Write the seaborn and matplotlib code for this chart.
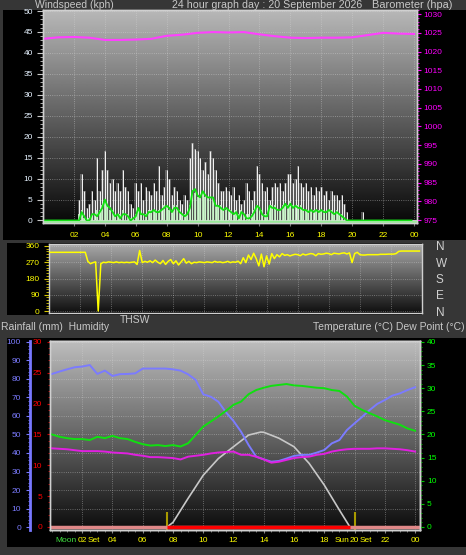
import numpy as np
import pandas as pd
import matplotlib
matplotlib.use("Agg")
import matplotlib.pyplot as plt
import matplotlib.transforms as mtransforms
from matplotlib.patches import Rectangle
from matplotlib.ticker import MultipleLocator
import seaborn as sns

plt.rcParams['font.family'] = ['Liberation Sans', 'DejaVu Sans']

W, H = 466, 555

# ---------------- data ----------------
# barometer, hourly (hPa)
baro_hour = list(range(25))
baro = [1023.4, 1023.8, 1023.9, 1023.7, 1023.1, 1023.1, 1023.2, 1023.4, 1024.2, 1024.5,
        1025.0, 1025.2, 1025.1, 1025.2, 1024.6, 1024.1, 1023.7, 1023.6, 1023.7, 1023.7,
        1023.8, 1024.4, 1025.0, 1024.8, 1024.7]

# wind, 10 minute readings (kph)
gust = [0, 0, 0, 0, 0, 0,  0, 0, 0, 0, 0, 0,  0, 0, 5, 11, 7, 3,
        4, 7, 5, 15, 7, 12,  16.5, 12, 9, 10, 7, 9,  7, 12, 8, 7, 4, 3,
        9, 7, 9, 5, 8, 7,  6, 9, 7, 13, 6, 8,  12, 10, 6, 8, 7, 5,
        4, 6, 5, 15, 18.5, 17,  16.5, 15, 12, 14, 11, 16.5,  15, 12, 9, 7, 7, 8,
        7, 6, 8, 5, 6, 4,  5, 9, 7, 5, 7, 13,  11, 9, 7, 8, 5, 8,
        9, 8, 9, 7, 9, 11,  11, 9, 10, 13, 9, 8,  9, 7, 8, 6, 8, 7,
        8, 6, 7, 5, 7, 6,  6, 5, 6, 4, 2, 0,  0, 0, 0, 0, 2, 0,
        0, 0, 0, 0, 0, 0,  0, 0, 0, 0, 0, 0,  0, 0, 0, 0, 0, 0]
speed = [0, 0, 0, 0, 0, 0,  0, 0, 0, 0, 0, 0,  0, 0, 2, 3, 1, 0,
         1, 2, 2, 3, 3, 4,  5, 4, 3, 3, 2, 2,  2, 3, 2, 2, 1, 1,
         2, 3, 2, 2, 2, 3,  3, 3, 3, 3, 3, 4,  4, 3, 3, 4, 4, 3,
         2, 2, 2, 4, 7, 7,  6, 6, 7, 6, 6, 6,  6, 4, 4, 4, 3, 3,
         3, 3, 2, 3, 2, 3,  2, 2, 2, 2, 3, 4,  4, 3, 2, 2, 4, 4,
         4, 3, 3, 4, 4, 4,  5, 4, 4, 4, 4, 3,  3, 3, 3, 3, 3, 3,
         3, 3, 3, 3, 3, 2,  3, 2, 2, 1, 0, 0,  0, 0, 0, 0, 0, 0,
         0, 0, 0, 0, 0, 0,  0, 0, 0, 0, 0, 0,  0, 0, 0, 0, 0, 0]
avg = [0, 0, 0, 0, 0, 0,  0, 0, 0, 0, 0, 0,  0, 0, 0, 2, 1, 0,
       0, 1.5, 1.5, 1, 2, 3,  5, 3.5, 3, 2, 1, 1.5,  0.5, 1.5, 1.5, 1, 0, 0.5,
       1, 3, 1.5, 1.5, 1, 2,  2, 2.5, 2, 2, 2.5, 3,  3.5, 3, 2, 3, 3, 2,
       1.5, 1, 1.5, 3, 7, 7.5,  6, 5.5, 7, 6, 5.5, 5.5,  5.5, 3.5, 3.5, 3, 2.5, 3,
       2.5, 2, 1.5, 2, 0.5, 2,  1.5, 0.5, 0.5, 1, 2, 3.5,  3, 1.5, 1, 1, 3.5, 3,
       3, 2.5, 2.5, 3, 4, 3,  4, 3, 3.5, 3, 3, 2.5,  2.5, 2, 2.5, 2, 2.5, 2,
       2.5, 2, 2, 2.5, 2, 1.5,  2, 1.5, 1, 0.5, 0, 0,  0, 0, 0, 0, 0, 0,
       0, 0, 0, 0, 0, 0,  0, 0, 0, 0, 0, 0,  0, 0, 0, 0, 0, 0]
# wind direction, 10 minute readings (degrees)
wdir = [325, 325, 325, 325, 325, 325,  325, 325, 325, 325, 325, 325,  325, 325, 325, 275, 262, 268,
        272, 0, 262, 270, 268, 272,  270, 268, 272, 268, 270, 268,  270, 268, 270, 272, 258, 335,
        268, 275, 270, 278, 268, 282,  270, 262, 280, 258, 275, 285,  262, 278, 255, 272, 290, 265,
        275, 262, 270, 268, 272, 270,  268, 272, 270, 268, 275, 270,  272, 268, 270, 275, 268, 272,
        270, 276, 262, 295, 268, 310,  285, 320, 290, 250, 315, 245,  305, 260, 318, 290, 312, 300,
        318, 308, 312, 305, 310, 314,  312, 306, 316, 310, 314, 318,  316, 306, 318, 314, 316, 320,
        318, 312, 320, 318, 316, 320,  322, 316, 322, 268, 318, 325,  312, 310, 310, 312, 312, 312,
        312, 312, 314, 314, 314, 315,  315, 315, 318, 330, 332, 332,  332, 332, 332, 332, 332, 332]

# half-hourly temperature / humidity
hum = [82.7, 84.0, 85.2, 86.3, 86.7, 87.5, 82.7, 84.5, 81.6, 82.6, 82.7, 83.0, 85.6,
       85.6, 85.6, 85.6, 85.2, 84.5, 82.5, 79.5, 71.7, 70.4, 67.7, 62.0, 57.3, 51.5,
       44.3, 38.0, 36.6, 35.3, 35.7, 37.0, 38.4, 39.0, 39.0, 40.2, 41.6, 45.2, 47.0,
       52.4, 56.0, 59.5, 63.2, 66.5, 68.6, 71.0, 72.2, 74.0, 75.5]
temp = [20.0, 19.5, 19.2, 19.0, 19.0, 18.8, 19.5, 19.2, 19.7, 19.2, 19.0, 18.4, 17.9,
        17.6, 17.7, 17.5, 17.7, 17.4, 18.1, 19.9, 21.7, 22.8, 23.9, 25.1, 26.4, 27.1,
        28.7, 29.6, 30.1, 30.5, 30.7, 30.9, 30.6, 30.5, 30.3, 30.1, 30.0, 29.6, 29.4,
        28.2, 26.2, 25.3, 24.6, 23.9, 23.1, 22.6, 22.1, 21.3, 20.8]
dew = [17.0, 16.9, 16.8, 16.6, 16.4, 16.4, 16.4, 16.3, 16.1, 16.0, 15.9, 15.6, 15.4,
       15.1, 15.1, 15.0, 14.9, 14.6, 15.2, 15.4, 15.6, 15.9, 16.1, 16.2, 16.3, 15.6,
       15.6, 15.2, 14.6, 13.9, 14.1, 14.5, 14.9, 15.1, 15.2, 15.6, 15.8, 16.3, 16.6,
       16.8, 16.9, 16.9, 16.9, 17.0, 17.0, 16.9, 16.8, 16.6, 16.3]

# sun elevation (degrees)
sun_hour = [7.6, 8, 9, 10, 11, 12, 13, 13.8, 14, 15, 16, 17, 18, 19, 19.7]
sun_elev = [0, 2.5, 15.5, 28, 37, 43.4, 49.7, 51.3, 51.2, 48, 43.4, 34.4, 22.7, 9.2, 0]
sunrise, sunset = 7.6, 20.0
rain_start, rain_end = 7.6, 19.7

hour_ticks = list(range(2, 25, 2))
hour_labels = ['02', '04', '06', '08', '10', '12', '14', '16', '18', '20', '22', '00']

wind = pd.DataFrame({'hour': np.arange(len(gust)) / 6, 'gust': gust, 'speed': speed,
                     'avg': avg, 'dir': wdir})
th = pd.DataFrame({'hour': np.arange(len(hum)) / 2, 'hum': hum, 'temp': temp, 'dew': dew})

# ---------------- figure ----------------
fig = plt.figure(figsize=(W / 100, H / 100), dpi=100, facecolor='#363636')


def box(x0, y0, x1, y1):
    fig.add_artist(Rectangle((x0 / W, 1 - y1 / H), (x1 - x0) / W, (y1 - y0) / H,
                             transform=fig.transFigure, facecolor='black',
                             edgecolor='none', zorder=-10))


def panel(x0, y0, x1, y1):
    return fig.add_axes([x0 / W, 1 - y1 / H, (x1 - x0) / W, (y1 - y0) / H])


def shade(ax, top, bottom):
    g = np.linspace(top, bottom, 256).reshape(-1, 1)
    x0, x1 = ax.get_xlim()
    y0, y1 = ax.get_ylim()
    ax.imshow(g, extent=[x0, x1, y0, y1], aspect='auto', cmap='gray', vmin=0, vmax=1,
              zorder=0, interpolation='bilinear')
    ax.set_xlim(x0, x1)
    ax.set_ylim(y0, y1)


def frame(ax, color='#d0d0d0'):
    for s in ax.spines.values():
        s.set_color(color)
        s.set_linewidth(1)


def ftext(x, y, s, size=7.5, **kw):
    fig.text(x / W, 1 - y / H, s, va='center', fontsize=size, color='#c8c8c8', **kw)


box(3, 10, 466, 240)
box(7, 243, 422, 315)
box(7, 338, 466, 547)

# ---- top: wind speed + barometer ----
ax1 = panel(43, 10, 417, 223)
ax1.set_xlim(0, 24.19)
ax1.set_ylim(-0.6, 50.24)
shade(ax1, 0.72, 0.03)
ax1.fill_between(wind['hour'], wind['gust'], step='mid', color='#b8b8b8', alpha=0.4, lw=0, zorder=2)
ax1.vlines(wind['hour'], 0, wind['gust'], color='white', lw=0.65, zorder=3)
ax1.hlines(0, 0, 24.19, color='#c8c8c8', lw=0.8, zorder=3)
ax1.bar(wind['hour'], wind['speed'], width=0.12, bottom=-0.4, color='#c6f5c6', alpha=0.85, zorder=4)
sns.lineplot(data=wind, x='hour', y='avg', ax=ax1, color='#10e010', linewidth=1.3, zorder=5)
ax1.axhline(-0.35, color='#9be89b', lw=1.5, zorder=5)
ax1.set_xlim(0, 24.19)
ax1.set_ylim(-0.6, 50.24)
ax1.set_xlabel('')
ax1.set_ylabel('')
ax1.set_yticks(range(0, 51, 5))
ax1.yaxis.set_minor_locator(MultipleLocator(1))
ax1.tick_params(axis='y', which='both', colors='#c8c8c8', labelcolor='#e6f2ff',
                labelsize=6, length=4.3, pad=3)
ax1.tick_params(axis='y', which='minor', length=2.2)
ax1.set_xticks(hour_ticks)
ax1.set_xticklabels(hour_labels)
ax1.tick_params(axis='x', colors='#777777', labelcolor='#ffff00', labelsize=6, length=2, pad=4.5)
ax1.grid(True, color='#d8d8d8', ls=':', lw=0.6, alpha=0.55)
frame(ax1)

ax1r = ax1.twinx()
sns.lineplot(x=baro_hour, y=baro, ax=ax1r, color='#ff40ff', linewidth=1.5)
ax1r.set_ylim(974.2, 1031.1)
ax1r.set_xlim(0, 24.19)
ax1r.set_ylabel('')
ax1r.set_yticks(range(975, 1031, 5))
ax1r.yaxis.set_minor_locator(MultipleLocator(1))
ax1r.tick_params(axis='y', which='both', colors='#ff00ff', labelcolor='#ff00ff',
                 labelsize=6, length=3, pad=1.5)
ax1r.tick_params(axis='y', which='minor', length=1.5)
frame(ax1r)

# ---- middle: wind direction ----
ax2 = panel(49, 244, 422, 313)
ax2.set_xlim(0, 24)
ax2.set_ylim(-11, 371)
shade(ax2, 0.66, 0.06)
sns.lineplot(data=wind, x='hour', y='dir', ax=ax2, color='#ffff00', linewidth=1.1, zorder=3)
ax2.set_xlim(0, 24)
ax2.set_ylim(-11, 371)
ax2.set_xlabel('')
ax2.set_ylabel('')
ax2.set_yticks([0, 90, 180, 270, 360])
ax2.yaxis.set_minor_locator(MultipleLocator(15))
ax2.tick_params(axis='y', which='both', colors='#d8c800', labelcolor='#ffff00',
                labelsize=6, length=3.6, pad=3)
ax2.tick_params(axis='y', which='minor', length=2)
ax2.set_xticks(hour_ticks)
ax2.tick_params(axis='x', length=0, labelbottom=False)
ax2.grid(True, color='#d8d8d8', ls=':', lw=0.6, alpha=0.5)
frame(ax2)

ax2r = ax2.twinx()
ax2r.set_ylim(-11, 371)
ax2r.set_yticks([0, 90, 180, 270, 360])
ax2r.set_yticklabels(['N', 'E', 'S', 'W', 'N'])
ax2r.tick_params(axis='y', length=0, pad=10, labelsize=8.5, labelcolor='#d0d0d0')
for s in ax2r.spines.values():
    s.set_visible(False)

# ---- bottom: humidity, rain, temperature ----
ax3 = panel(50, 341, 420, 530)
ax3.set_xlim(-0.13, 24.33)
ax3.set_ylim(-1.6, 100.5)
shade(ax3, 0.74, 0.05)
sns.lineplot(x=sun_hour, y=sun_elev, ax=ax3, color='#c8c8c8', linewidth=1.2, zorder=3)
sns.lineplot(data=th, x='hour', y='hum', ax=ax3, color='#7b7bff', linewidth=1.4, zorder=4)
ax3.vlines([sunrise, sunset], -1.6, 8, color='#a89a00', lw=1.5, zorder=5)
ax3.set_xlim(-0.13, 24.33)
ax3.set_ylim(-1.6, 100.5)
ax3.set_xlabel('')
ax3.set_ylabel('')
ax3.set_yticks(range(0, 101, 10))
ax3.yaxis.set_minor_locator(MultipleLocator(2))
ax3.tick_params(axis='y', which='both', colors='#7878ff', labelcolor='#7b7bff',
                labelsize=6, length=3, pad=3.5)
ax3.tick_params(axis='y', which='minor', length=1.8)
ax3.set_xticks(hour_ticks)
ax3.set_xticklabels(hour_labels)
ax3.xaxis.set_minor_locator(MultipleLocator(0.5))
ax3.tick_params(axis='x', which='both', colors='#888888', labelcolor='#ffff00',
                labelsize=6, length=2, pad=3)
ax3.tick_params(axis='x', which='minor', length=1.5)
ax3.grid(True, color='#d8d8d8', ls=':', lw=0.6, alpha=0.5)
frame(ax3)
ax3.spines['left'].set_position(('outward', 14.4))
ax3.spines['left'].set_color('#7878ff')
ax3.spines['left'].set_linewidth(2)

ax3rain = ax3.twinx()
ax3rain.yaxis.tick_left()
ax3rain.set_ylim(-0.49, 30.16)
ax3rain.axhline(0, color='#e08888', lw=2.5, zorder=2)
ax3rain.hlines(0, rain_start, rain_end, color='#ff0000', lw=2.5, zorder=3)
ax3rain.set_xlim(-0.13, 24.33)
ax3rain.set_yticks(range(0, 31, 5))
ax3rain.yaxis.set_minor_locator(MultipleLocator(1))
ax3rain.tick_params(axis='y', which='both', colors='#c00000', labelcolor='#ff0000',
                    labelsize=6, length=2.5, pad=3.2)
ax3rain.tick_params(axis='y', which='minor', length=1.5)
frame(ax3rain)

ax3t = ax3.twinx()
sns.lineplot(data=th, x='hour', y='temp', ax=ax3t, color='#10e010', linewidth=1.4)
sns.lineplot(data=th, x='hour', y='dew', ax=ax3t, color='#e020e0', linewidth=1.4)
ax3t.set_xlim(-0.13, 24.33)
ax3t.set_ylim(-0.65, 40.2)
ax3t.set_ylabel('')
ax3t.set_yticks(range(0, 41, 5))
ax3t.yaxis.set_minor_locator(MultipleLocator(1))
ax3t.tick_params(axis='y', which='both', colors='#00c000', labelcolor='#00ff00',
                 labelsize=6, length=3, pad=2)
ax3t.tick_params(axis='y', which='minor', length=1.5)
frame(ax3t)

# moon / sun set labels either side of the time labels
blend = mtransforms.blended_transform_factory(ax3.transData, ax3.transAxes)
ax3.text(1.65, -0.053, 'Moon', color='#40e040', fontsize=6, ha='right', va='center', transform=blend)
ax3.text(2.36, -0.053, 'Set', color='#ffff00', fontsize=6, ha='left', va='center', transform=blend)
ax3.text(19.64, -0.053, 'Sun', color='#ffff00', fontsize=6, ha='right', va='center', transform=blend)
ax3.text(20.36, -0.053, 'Set', color='#ffff00', fontsize=6, ha='left', va='center', transform=blend)

# headings
ftext(35, 5, 'Windspeed (kph)')
ftext(172, 5, '24 hour graph day : 20 September 2026', size=7.7)
ftext(372, 5, 'Barometer (hpa)', size=7.9)
ftext(120, 320, 'THSW')
ftext(1, 327, 'Rainfall (mm)  Humidity')
fig.text(465 / W, 1 - 327 / H, 'Temperature (°C) Dew Point (°C)', ha='right', va='center',
         fontsize=7.5, color='#c8c8c8')

fig.savefig('out.png', dpi=100, facecolor=fig.get_facecolor())
